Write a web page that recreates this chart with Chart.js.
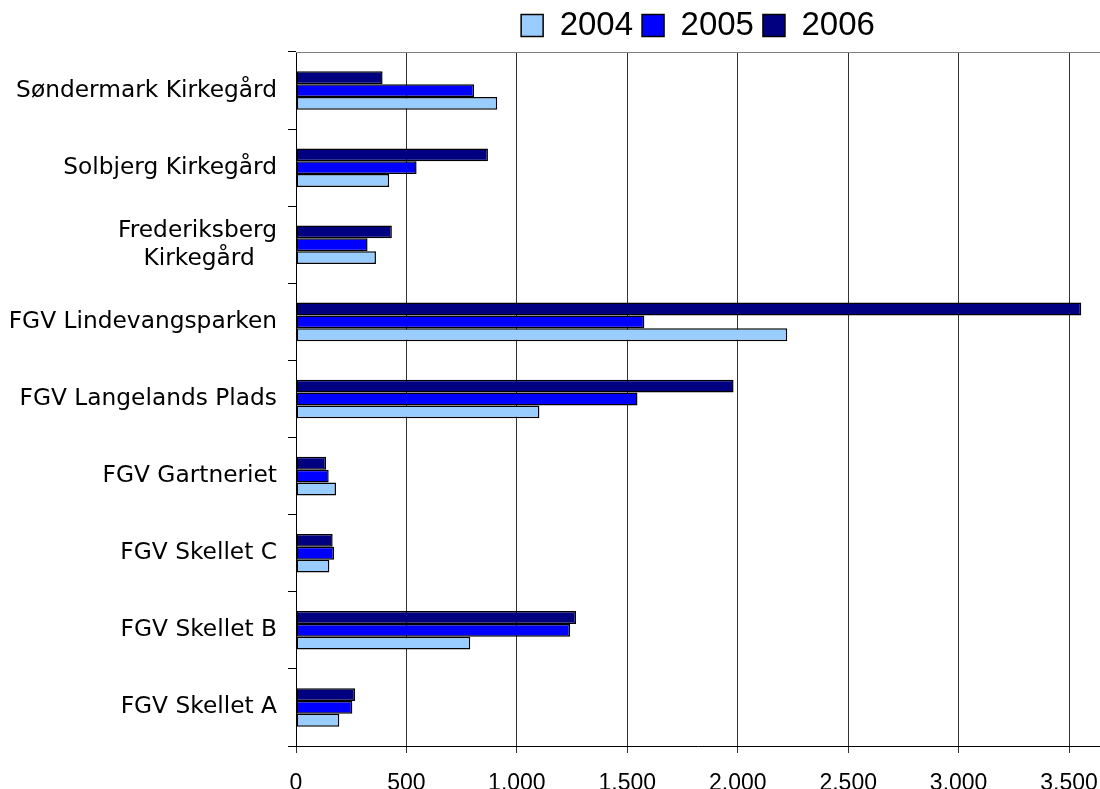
<!DOCTYPE html>
<html>
<head>
<meta charset="utf-8">
<script src="https://cdn.jsdelivr.net/npm/chart.js@4.4.1/dist/chart.umd.min.js"></script>
<style>
html, body { margin: 0; padding: 0; background: #fff; }
#wrap { width: 1100px; height: 789px; }
</style>
</head>
<body>
<div id="wrap"><canvas id="myBarChart"></canvas></div>
<script>
// categories, top to bottom
const categories = [
    'Søndermark Kirkegård',
    'Solbjerg Kirkegård',
    ['Frederiksberg', 'Kirkegård\u00a0\u00a0\u00a0'],
    'FGV Lindevangsparken',
    'FGV Langelands Plads',
    'FGV Gartneriet',
    'FGV Skellet C',
    'FGV Skellet B',
    'FGV Skellet A'
];
const values2004 = [911, 422, 362, 2224, 1102, 181, 151, 789, 196];
const values2005 = [806, 546, 324, 1577, 1546, 148, 172, 1241, 255];
const values2006 = [392, 869, 434, 3555, 1981, 136, 166, 1268, 267];
const xTicks = [0, 500, 1000, 1500, 2000, 2500, 3000, 3500];

// thousands with a dot, like 1.000
function fmt(v) {
    return String(v).replace(/\B(?=(\d{3})+(?!\d))/g, '.');
}

// thin grey line along the top of the plot area
const plotTopLine = {
    id: 'plotTopLine',
    afterDraw(chart) {
        const a = chart.chartArea;
        const c = chart.ctx;
        c.save();
        c.strokeStyle = '#808080';
        c.lineWidth = 1;
        c.beginPath();
        c.moveTo(a.left, Math.round(a.top) + 0.5);
        c.lineTo(a.right, Math.round(a.top) + 0.5);
        c.stroke();
        c.restore();
    }
};

const ctx = document.getElementById('myBarChart').getContext('2d');
const myBarChart = new Chart(ctx, {
    type: 'bar',
    data: {
        labels: categories,
        datasets: [
            { label: '2006', data: values2006, backgroundColor: '#000080' },
            { label: '2005', data: values2005, backgroundColor: '#0000FF' },
            { label: '2004', data: values2004, backgroundColor: '#99CCFF' }
        ]
    },
    options: {
        indexAxis: 'y',
        responsive: true,
        maintainAspectRatio: false,
        animation: false,
        layout: { padding: { top: 0, right: 0, bottom: 0, left: 0 } },
        datasets: {
            bar: {
                borderColor: '#000',
                borderWidth: 1.5,
                borderSkipped: false,
                categoryPercentage: 0.5,
                barPercentage: 1
            }
        },
        plugins: {
            legend: {
                position: 'top',
                fullSize: false,
                reverse: true,
                labels: {
                    boxWidth: 22,
                    boxHeight: 22,
                    padding: 9,
                    color: '#000',
                    font: { family: 'Liberation Sans, Arial, sans-serif', size: 33 }
                }
            },
            tooltip: { enabled: false }
        },
        scales: {
            x: {
                min: 0,
                max: 3640,
                afterBuildTicks: function(scale) {
                    scale.ticks = xTicks.map(v => ({ value: v }));
                },
                afterFit: function(scale) {
                    scale.height = 43;
                    scale.paddingLeft = 0;
                    scale.paddingRight = 0;
                },
                grid: {
                    color: '#333',
                    lineWidth: 1,
                    drawTicks: true,
                    tickLength: 7
                },
                border: { color: '#000', width: 1 },
                ticks: {
                    color: '#000',
                    padding: 21,
                    maxRotation: 0,
                    font: { family: 'Liberation Sans, Arial, sans-serif', size: 23, lineHeight: 0.8 },
                    callback: function(v) { return fmt(v); }
                }
            },
            y: {
                afterFit: function(scale) {
                    scale.width = 296;
                    scale.paddingTop = 0;
                    scale.paddingBottom = 0;
                },
                grid: {
                    offset: true,
                    drawOnChartArea: false,
                    drawTicks: true,
                    tickLength: 8,
                    color: '#000'
                },
                border: { color: '#000', width: 1 },
                ticks: {
                    color: '#000',
                    padding: 11,
                    font: { family: 'DejaVu Sans, Verdana, sans-serif', size: 23.3, lineHeight: 1.22 }
                }
            }
        }
    },
    plugins: [plotTopLine]
});
</script>
</body>
</html>
